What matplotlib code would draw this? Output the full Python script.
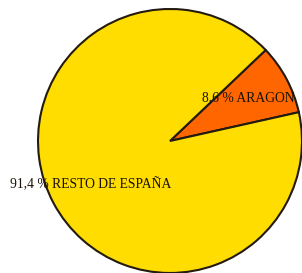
import matplotlib.pyplot as plt

# Datos del gráfico
etiquetas = ['8,6 % ARAGON', '91,4 % RESTO DE ESPAÑA']
valores = [8.6, 91.4]
colores = ['#FF6600', '#FFDD00']

fig = plt.figure(figsize=(3.02, 2.73), dpi=100)
ax = fig.add_axes([0, 0, 1, 1])

ax.pie(valores, colors=colores, startangle=12.6, counterclock=True,
       radius=1.0, wedgeprops=dict(edgecolor='#231a10', linewidth=1.5))

# Etiquetas
ax.text(0.59, 0.33, etiquetas[0], ha='center', va='center',
        family='Liberation Serif', fontsize=9.8, color='#1a1208')
ax.text(-0.6, -0.33, etiquetas[1], ha='center', va='center',
        family='Liberation Serif', fontsize=9.8, color='#1a1208')

ax.set_xlim(-1.288, 1.0)
ax.set_ylim(-1.0, 1.068)
ax.set_aspect('equal')
ax.axis('off')

fig.savefig('out.png', dpi=100, facecolor='white')
